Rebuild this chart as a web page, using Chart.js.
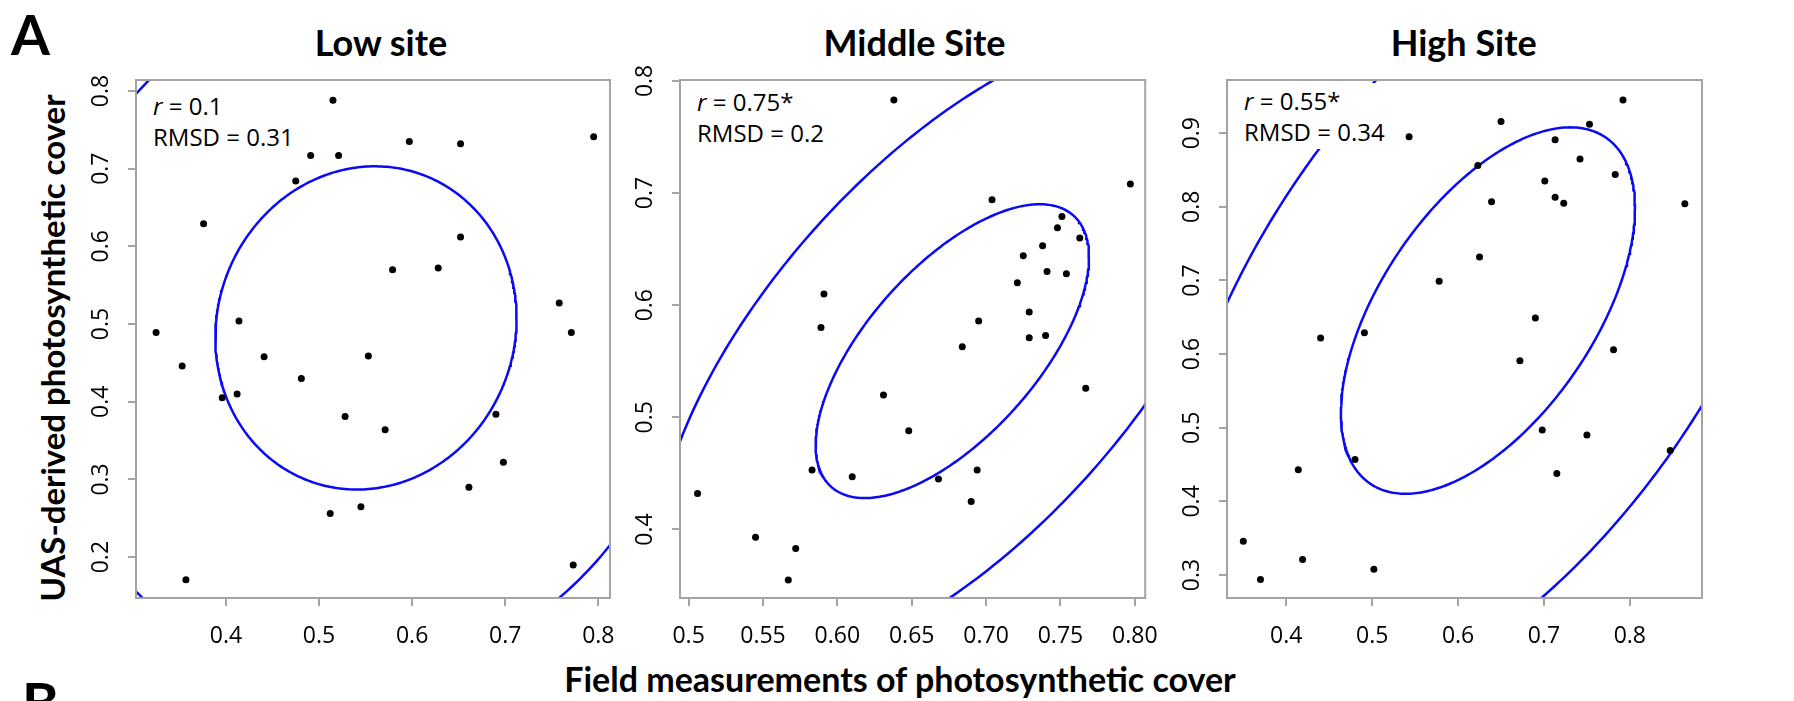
<!DOCTYPE html>
<html><head><meta charset="utf-8">
<script src="https://cdn.jsdelivr.net/npm/chart.js@4"></script>
<style>
html,body{margin:0;padding:0;background:#fff;}
#fig{position:relative;width:1794px;height:701px;overflow:hidden;background:#fff;font-family:Lato,sans-serif;color:#000;}
.t{position:absolute;white-space:nowrap;line-height:1;}
canvas{position:absolute;top:0;}
.stat{position:absolute;background:#fff;padding:2px 8px;font-size:24px;line-height:31px;white-space:nowrap;z-index:5;font-family:"Open Sans",sans-serif;}
</style></head><body>
<div id="fig">
  <div class="t" style="left:11px;top:6px;font-size:56px;font-weight:bold;">A</div>
  <div class="t" style="left:22px;top:674px;font-size:56px;font-weight:bold;">B</div>
  <div class="t" id="title0" style="top:24px;font-size:36px;font-weight:bold;transform:translateX(-50%);"></div>
  <div class="t" id="title1" style="top:24px;font-size:36px;font-weight:bold;transform:translateX(-50%);"></div>
  <div class="t" id="title2" style="top:24px;font-size:36px;font-weight:bold;transform:translateX(-50%);"></div>
  <div class="t" id="ytitle" style="left:51.5px;top:348px;font-size:33px;font-weight:bold;transform:translate(-50%,-50%) rotate(-90deg);"></div>
  <div class="t" id="xtitle" style="left:900px;top:662px;font-size:34px;font-weight:bold;transform:translateX(-50%);"></div>
  <div class="stat" id="stat0"></div>
  <div class="stat" id="stat1"></div>
  <div class="stat" id="stat2"></div>
</div>
<script>
// ---------- data ----------
const panelTitles = ["Low site", "Middle Site", "High Site"];
const xAxisTitle = "Field measurements of photosynthetic cover";
const yAxisTitle = "UAS-derived photosynthetic cover";
const rLabels = ["0.1", "0.75*", "0.55*"];
const rmsdLabels = ["0.31", "0.2", "0.34"];

const lowX = [0.515, 0.597, 0.652, 0.795, 0.491, 0.521, 0.475, 0.376, 0.652, 0.579, 0.628, 0.758, 0.771, 0.325, 0.414, 0.353, 0.441, 0.553, 0.481, 0.396, 0.412, 0.528, 0.571, 0.690, 0.698, 0.661, 0.512, 0.545, 0.357, 0.773];
const lowY = [0.788, 0.735, 0.732, 0.741, 0.717, 0.717, 0.684, 0.629, 0.612, 0.570, 0.572, 0.527, 0.489, 0.489, 0.504, 0.446, 0.458, 0.459, 0.430, 0.405, 0.410, 0.381, 0.364, 0.384, 0.322, 0.290, 0.256, 0.265, 0.171, 0.190];

const midX = [0.638, 0.797, 0.704, 0.751, 0.748, 0.763, 0.738, 0.725, 0.741, 0.754, 0.721, 0.591, 0.589, 0.729, 0.695, 0.729, 0.740, 0.684, 0.631, 0.767, 0.648, 0.583, 0.610, 0.668, 0.694, 0.690, 0.506, 0.545, 0.572, 0.567];
const midY = [0.783, 0.708, 0.694, 0.679, 0.669, 0.660, 0.653, 0.644, 0.630, 0.628, 0.620, 0.610, 0.580, 0.594, 0.586, 0.571, 0.573, 0.563, 0.520, 0.526, 0.488, 0.453, 0.447, 0.445, 0.453, 0.425, 0.432, 0.393, 0.383, 0.355];

const highX = [0.792, 0.650, 0.753, 0.543, 0.713, 0.742, 0.623, 0.783, 0.701, 0.713, 0.639, 0.723, 0.864, 0.625, 0.578, 0.690, 0.440, 0.491, 0.781, 0.672, 0.698, 0.750, 0.847, 0.480, 0.414, 0.715, 0.350, 0.419, 0.370, 0.502];
const highY = [0.945, 0.916, 0.912, 0.895, 0.891, 0.865, 0.856, 0.844, 0.835, 0.813, 0.807, 0.805, 0.804, 0.732, 0.699, 0.649, 0.622, 0.629, 0.606, 0.591, 0.497, 0.490, 0.469, 0.457, 0.443, 0.438, 0.346, 0.321, 0.294, 0.308];

// ellipse parameters: [centreX, centreY, halfExtentX, halfExtentY, correlation]
const lowEllipse  = [0.5504, 0.495, 0.1618, 0.2080, 0.06];
const midEllipse  = [0.6773, 0.559, 0.0919, 0.1310, 0.64];
const highEllipse = [0.6348, 0.6591, 0.1712, 0.2488, 0.56];
const ellipseLevels = [1, 2.17];

// axis ranges and ticks
const lowXRange = [0.3034, 0.8125], lowYRange = [0.1474, 0.8141];
const midXRange = [0.4942, 0.8070], midYRange = [0.3389, 0.8008];
const highXRange = [0.3310, 0.8840], highYRange = [0.2688, 0.9722];

const lowXTicks = [0.4, 0.5, 0.6, 0.7, 0.8];
const lowXTickLabels = ["0.4", "0.5", "0.6", "0.7", "0.8"];
const lowYTicks = [0.2, 0.3, 0.4, 0.5, 0.6, 0.7, 0.8];
const lowYTickLabels = ["0.2", "0.3", "0.4", "0.5", "0.6", "0.7", "0.8"];
const midXTicks = [0.5, 0.55, 0.6, 0.65, 0.7, 0.75, 0.8];
const midXTickLabels = ["0.5", "0.55", "0.60", "0.65", "0.70", "0.75", "0.80"];
const midYTicks = [0.4, 0.5, 0.6, 0.7, 0.8];
const midYTickLabels = ["0.4", "0.5", "0.6", "0.7", "0.8"];
const highXTicks = [0.4, 0.5, 0.6, 0.7, 0.8];
const highXTickLabels = ["0.4", "0.5", "0.6", "0.7", "0.8"];
const highYTicks = [0.3, 0.4, 0.5, 0.6, 0.7, 0.8, 0.9];
const highYTickLabels = ["0.3", "0.4", "0.5", "0.6", "0.7", "0.8", "0.9"];

// ---------- layout (pixels) ----------
const layout = {
  boxes: [[136, 80, 612, 598], [680, 80, 1155, 598], [1227, 80, 1702, 598]],
  titleX: [381, 914.6, 1463.7],
  statTop: [88, 84, 83],
  leftSpace: 110, rightSpace: 20, figH: 701
};

document.getElementById('ytitle').textContent = yAxisTitle;
document.getElementById('xtitle').textContent = xAxisTitle;

const panels = [
  {x: lowX, y: lowY, ell: lowEllipse, xr: lowXRange, yr: lowYRange, xt: lowXTicks, xl: lowXTickLabels, yt: lowYTicks, yl: lowYTickLabels},
  {x: midX, y: midY, ell: midEllipse, xr: midXRange, yr: midYRange, xt: midXTicks, xl: midXTickLabels, yt: midYTicks, yl: midYTickLabels},
  {x: highX, y: highY, ell: highEllipse, xr: highXRange, yr: highYRange, xt: highXTicks, xl: highXTickLabels, yt: highYTicks, yl: highYTickLabels}
];

function ellipsePoints(p, k) {
  const [cx, cy, ex, ey, r] = p;
  const s = Math.sqrt(1 - r * r);
  const pts = [];
  const n = 360;
  for (let i = 0; i <= n; i++) {
    const t = 2 * Math.PI * i / n;
    pts.push({x: cx + k * ex * Math.cos(t), y: cy + k * ey * (r * Math.cos(t) + s * Math.sin(t))});
  }
  return pts;
}

const boxPlugin = {
  id: 'boxPlugin',
  afterDatasetsDraw(chart) {
    const a = chart.chartArea, ctx = chart.ctx;
    ctx.save();
    ctx.strokeStyle = '#a3a3a3';
    ctx.lineWidth = 2;
    ctx.strokeRect(a.left, a.top, a.right - a.left, a.bottom - a.top);
    ctx.restore();
  }
};

const tickFont = {family: 'Open Sans', size: 23};
const fig = document.getElementById('fig');

panels.forEach((p, i) => {
  const [L, T, R, B] = layout.boxes[i];
  const cvs = document.createElement('canvas');
  const cw = (R - L) + layout.leftSpace + layout.rightSpace;
  cvs.width = cw; cvs.height = layout.figH;
  cvs.style.left = (L - layout.leftSpace) + 'px';
  cvs.style.width = cw + 'px'; cvs.style.height = layout.figH + 'px';
  fig.appendChild(cvs);

  document.getElementById('title' + i).textContent = panelTitles[i];
  document.getElementById('title' + i).style.left = layout.titleX[i] + 'px';
  const st = document.getElementById('stat' + i);
  st.innerHTML = '<i>r</i> = ' + rLabels[i] + '<br>RMSD = ' + rmsdLabels[i];
  st.style.left = (L + 17 - 8) + 'px';
  st.style.top = layout.statTop[i] + 'px';

  const datasets = [
    {data: p.x.map((v, j) => ({x: v, y: p.y[j]})), showLine: false, pointRadius: 3.5, pointHoverRadius: 3.5,
     backgroundColor: '#000', borderWidth: 0, pointBorderWidth: 0, order: 0},
  ];
  ellipseLevels.forEach(k => datasets.push({
    data: ellipsePoints(p.ell, k), showLine: true, pointRadius: 0, borderColor: '#0a0af5',
    borderWidth: 2.5, fill: false, tension: 0, clip: 0, order: 1
  }));

  new Chart(cvs, {
    type: 'scatter',
    data: {datasets},
    plugins: [boxPlugin],
    options: {
      responsive: false, animation: false, devicePixelRatio: 1,
      layout: {padding: {left: 0, right: layout.rightSpace, top: T, bottom: 0}},
      plugins: {legend: {display: false}, title: {display: false}, tooltip: {enabled: false}},
      events: [],
      scales: {
        x: {
          type: 'linear', position: 'bottom', min: p.xr[0], max: p.xr[1],
          afterBuildTicks: s => { s.ticks = p.xt.map(v => ({value: v})); },
          afterFit: s => { s.height = layout.figH - B; },
          ticks: {callback: (v, idx) => p.xl[idx], font: tickFont, color: '#000', padding: 17, autoSkip: false, maxRotation: 0, minRotation: 0},
          grid: {display: true, drawOnChartArea: false, drawTicks: true, tickLength: 8, color: '#a3a3a3', lineWidth: 2},
          border: {display: false}
        },
        y: {
          type: 'linear', position: 'left', min: p.yr[0], max: p.yr[1],
          afterBuildTicks: s => { s.ticks = p.yt.map(v => ({value: v})); },
          afterFit: s => { s.width = layout.leftSpace; },
          ticks: {callback: (v, idx) => p.yl[idx], font: tickFont, color: '#000', padding: 10, autoSkip: false,
                  minRotation: 90, maxRotation: 90, crossAlign: 'center'},
          grid: {display: true, drawOnChartArea: false, drawTicks: true, tickLength: 8, color: '#a3a3a3', lineWidth: 2},
          border: {display: false}
        }
      }
    }
  });
});
</script>
</body></html>
